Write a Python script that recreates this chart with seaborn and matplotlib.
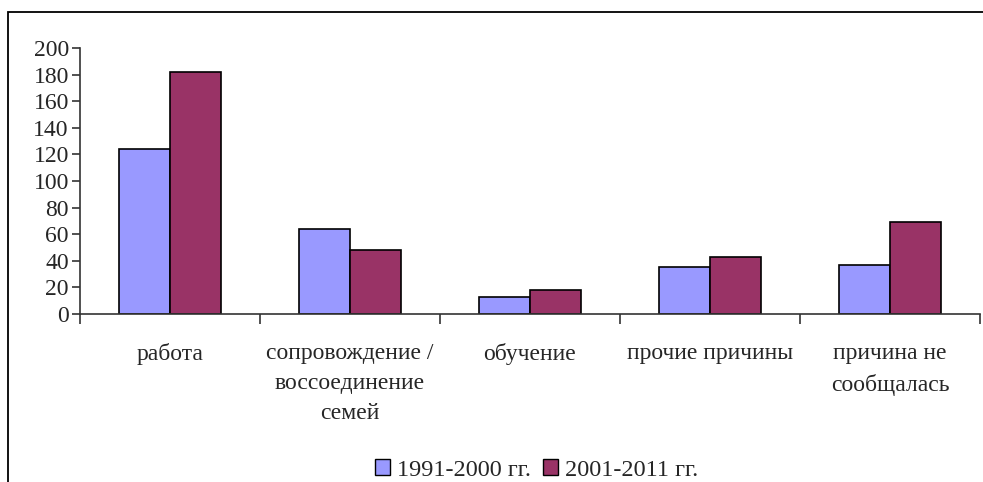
import pandas as pd
import matplotlib.pyplot as plt
import matplotlib.patches as mpatches
import seaborn as sns

sns.set_style("white")
plt.rcParams['font.family'] = ['Liberation Serif', 'DejaVu Serif']

categories = ['работа', 'сопровождение /\nвоссоединение\nсемей', 'обучение',
              'прочие причины', 'причина не\nсообщалась']
series = ['1991-2000 гг.', '2001-2011 гг.']
values_1991 = [124, 64, 13, 35, 37]
values_2001 = [182, 48, 18, 43, 69]
colors = ['#9999FF', '#993366']

df = pd.DataFrame({
    'category': categories * 2,
    'period': [series[0]] * len(categories) + [series[1]] * len(categories),
    'value': values_1991 + values_2001,
})

fig = plt.figure(figsize=(9.83, 4.82), dpi=100)
ax = fig.add_axes([80 / 983, 1 - 314 / 482, 900 / 983, 266 / 482])

sns.barplot(data=df, x='category', y='value', hue='period', palette=colors,
            saturation=1, width=0.57, edgecolor='black', linewidth=1.2, ax=ax, legend=False)

ax.set_xlim(-0.5, len(categories) - 0.5)
ax.set_ylim(0, 200)
ax.set_yticks(range(0, 201, 20))
ax.set_xlabel('')
ax.set_ylabel('')
for s in ['top', 'right']:
    ax.spines[s].set_visible(False)
for s in ['left', 'bottom']:
    ax.spines[s].set_color('#333333')
    ax.spines[s].set_linewidth(1.2)

ax.set_xticks(range(len(categories)))
ax.set_xticklabels(categories, linespacing=1.55, va='top')
ax.set_xticks([i - 0.5 for i in range(len(categories) + 1)], minor=True)
ax.tick_params(axis='x', which='major', length=0, pad=21, labelsize=17)
ax.tick_params(axis='x', which='minor', bottom=True, length=7, width=1.2,
               color='#333333', direction='out')
ax.tick_params(axis='y', left=True, length=6, width=1.2, color='#333333',
               direction='out', labelsize=17, pad=2)

handles = [mpatches.Patch(facecolor=c, edgecolor='black', linewidth=1, label=l)
           for c, l in zip(colors, series)]
fig.legend(handles=handles, loc='center', bbox_to_anchor=(537 / 983, 1 - 470 / 482),
           ncol=2, frameon=False, fontsize=17.5, handlelength=0.6, handleheight=0.6,
           handletextpad=0.3, columnspacing=0.5, borderpad=0)

frame = mpatches.Rectangle((8 / 983, -0.1), 1.2, 1.1 - 12 / 482, transform=fig.transFigure,
                           fill=False, edgecolor='black', linewidth=1.3)
fig.patches.append(frame)

fig.savefig('out.png', dpi=100)
